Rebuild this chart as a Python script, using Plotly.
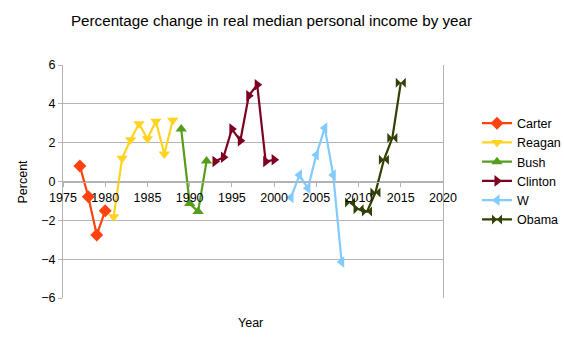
import plotly.graph_objects as go

carter_years = [1977, 1978, 1979, 1980]
carter_vals = [0.8, -0.78, -2.75, -1.5]
reagan_years = [1981, 1982, 1983, 1984, 1985, 1986, 1987, 1988]
reagan_vals = [-1.82, 1.2, 2.15, 2.97, 2.2, 3.1, 1.42, 3.15]
bush_years = [1989, 1990, 1991, 1992]
bush_vals = [2.7, -1.13, -1.55, 1.05]
clinton_years = [1993, 1994, 1995, 1996, 1997, 1998, 1999, 2000]
clinton_vals = [1.03, 1.25, 2.7, 2.1, 4.42, 4.98, 1.03, 1.12]
w_years = [2002, 2003, 2004, 2005, 2006, 2007, 2008]
w_vals = [-0.82, 0.33, -0.35, 1.37, 2.76, 0.33, -4.15]
obama_years = [2009, 2010, 2011, 2012, 2013, 2014, 2015]
obama_vals = [-1.08, -1.43, -1.55, -0.57, 1.12, 2.24, 5.08]

series = [
    ("Carter", carter_years, carter_vals, "#ff420e", "diamond"),
    ("Reagan", reagan_years, reagan_vals, "#ffd320", "triangle-down"),
    ("Bush", bush_years, bush_vals, "#579d1c", "triangle-up"),
    ("Clinton", clinton_years, clinton_vals, "#7e0021", "triangle-right"),
    ("W", w_years, w_vals, "#83caff", "triangle-left"),
    ("Obama", obama_years, obama_vals, "#314004", "bowtie"),
]

FONT = "Liberation Sans, Arial, sans-serif"
GRID = "#b3b3b3"

fig = go.Figure()
for name, xs, ys, color, sym in series:
    fig.add_trace(go.Scatter(
        x=xs, y=ys, name=name, mode="lines+markers", legendgroup=name,
        line=dict(color=color, width=2.2),
        marker=dict(symbol=sym, size=10, color=color, line=dict(width=0)),
    ))

L, R, T, B = 63, 121, 65, 43
pw = 564 - L - R
ph = 341 - T - B

fig.update_layout(
    width=564, height=341,
    margin=dict(l=L, r=R, t=T, b=B, autoexpand=False),
    paper_bgcolor="white", plot_bgcolor="white",
    font=dict(family=FONT, size=13, color="black"),
    title=dict(text="Percentage change in real median personal income by year",
               font=dict(family=FONT, size=15.2, color="black"),
               x=271.5 / 564, xref="container", xanchor="center",
               y=1 - 21 / 341, yref="container", yanchor="middle"),
    showlegend=True,
    legend=dict(x=(477 - L) / pw, xanchor="left", y=(341 - B - 108.5) / ph, yanchor="top",
                font=dict(family=FONT, size=12.5, color="black"),
                tracegroupgap=0, bgcolor="rgba(0,0,0,0)"),
    xaxis=dict(range=[1975, 2020], tickmode="linear", tick0=1975, dtick=5,
               showgrid=False, zeroline=False, showline=True, linecolor=GRID,
               linewidth=1, ticks="outside", ticklen=4, tickcolor=GRID,
               anchor="free", position=0.5,
               tickfont=dict(family=FONT, size=12.5, color="black")),
    yaxis=dict(range=[-6, 6], tickmode="linear", tick0=-6, dtick=2,
               showgrid=True, gridcolor=GRID, gridwidth=1, zeroline=False,
               showline=True, mirror=True, linecolor=GRID, linewidth=1,
               ticks="outside", ticklen=4, tickcolor=GRID,
               tickfont=dict(family=FONT, size=12.5, color="black")),
    annotations=[
        dict(text="Year", x=(250 - L) / pw, y=(341 - B - 323) / ph,
             xref="paper", yref="paper",
             showarrow=False, font=dict(family=FONT, size=12.5, color="black"),
             xanchor="center", yanchor="middle"),
        dict(text="Percent", x=(22.5 - L) / pw, y=(341 - B - 182) / ph,
             xref="paper", yref="paper",
             showarrow=False, textangle=-90,
             font=dict(family=FONT, size=12.5, color="black"),
             xanchor="center", yanchor="middle"),
    ],
)

fig.write_html("out.html")
